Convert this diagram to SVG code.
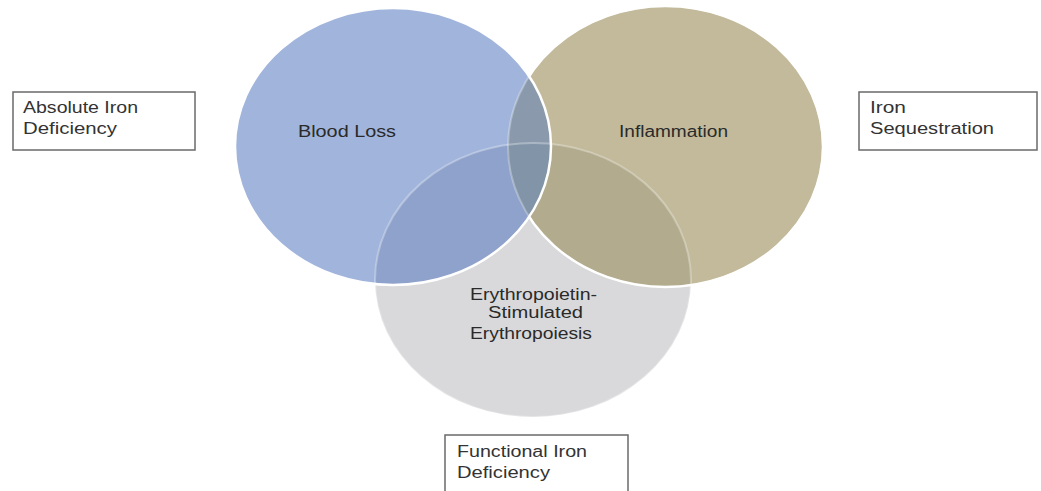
<svg xmlns="http://www.w3.org/2000/svg" width="1041" height="491" viewBox="0 0 1041 491">
<style>
.lbl{font-family:"Liberation Sans",Arial,sans-serif;font-size:16px;fill:#2a2a2a}
.box rect{fill:#fff;stroke:#6a6a6a;stroke-width:1.5}
.box text{font-family:"Liberation Sans",Arial,sans-serif;font-size:16px;fill:#333}
</style>
<defs>
<ellipse id="eB" cx="393" cy="146.5" rx="158" ry="138.5"/>
<ellipse id="eT" cx="665.5" cy="146.5" rx="157.5" ry="140.5"/>
<ellipse id="eG" cx="533" cy="280" rx="158" ry="137"/>
<clipPath id="cB"><use href="#eB"/></clipPath>
<clipPath id="cT"><use href="#eT"/></clipPath>
<clipPath id="cG"><use href="#eG"/></clipPath>
<mask id="mNotB"><rect width="1041" height="491" fill="#fff"/><use href="#eB" fill="#000"/></mask>
<mask id="mNotBT"><rect width="1041" height="491" fill="#fff"/><use href="#eB" fill="#000"/><use href="#eT" fill="#000"/></mask>
</defs>
<rect width="1041" height="491" fill="#fff"/>
<g id="venn">
<use href="#eG" fill="#D9D9DB"/>
<use href="#eT" fill="#C2BA9B"/>
<use href="#eB" fill="#A1B5DC"/>
<use href="#eT" fill="#B2AB8D" clip-path="url(#cG)"/>
<use href="#eB" fill="#8FA2CB" clip-path="url(#cG)"/>
<use href="#eB" fill="#8A9AAC" clip-path="url(#cT)"/>
<g clip-path="url(#cG)"><use href="#eB" fill="#8294A7" clip-path="url(#cT)"/></g>
<use href="#eG" fill="none" stroke="#fff" stroke-width="2" stroke-opacity="0.3"/>
<use href="#eT" fill="none" stroke="#fff" stroke-width="2" stroke-opacity="0.3"/>
<use href="#eT" fill="none" stroke="#fff" stroke-width="2.5" mask="url(#mNotB)"/>
<use href="#eB" fill="none" stroke="#fff" stroke-width="2.5"/>
</g>
<g id="node-blood-loss"><text class="lbl" x="298" y="137" textLength="98" lengthAdjust="spacingAndGlyphs">Blood Loss</text></g>
<g id="node-inflammation"><text class="lbl" x="619" y="137" textLength="109" lengthAdjust="spacingAndGlyphs">Inflammation</text></g>
<g id="node-epo">
<text class="lbl" x="470" y="300" textLength="127" lengthAdjust="spacingAndGlyphs">Erythropoietin-</text>
<text class="lbl" x="488" y="318" textLength="95" lengthAdjust="spacingAndGlyphs">Stimulated</text>
<text class="lbl" x="470" y="339" textLength="122" lengthAdjust="spacingAndGlyphs">Erythropoiesis</text>
</g>
<g id="box-absolute" class="box">
<rect x="13" y="92" width="182" height="58"/>
<text x="23" y="113" textLength="115" lengthAdjust="spacingAndGlyphs">Absolute Iron</text>
<text x="23" y="134" textLength="94" lengthAdjust="spacingAndGlyphs">Deficiency</text>
</g>
<g id="box-sequestration" class="box">
<rect x="859" y="92" width="178" height="58"/>
<text x="870" y="113" textLength="36" lengthAdjust="spacingAndGlyphs">Iron</text>
<text x="870" y="134" textLength="124" lengthAdjust="spacingAndGlyphs">Sequestration</text>
</g>
<g id="box-functional" class="box">
<rect x="445" y="435" width="183" height="60"/>
<text x="457" y="457" textLength="130" lengthAdjust="spacingAndGlyphs">Functional Iron</text>
<text x="457" y="478" textLength="93" lengthAdjust="spacingAndGlyphs">Deficiency</text>
</g>
<g id="connectors"/>
</svg>
